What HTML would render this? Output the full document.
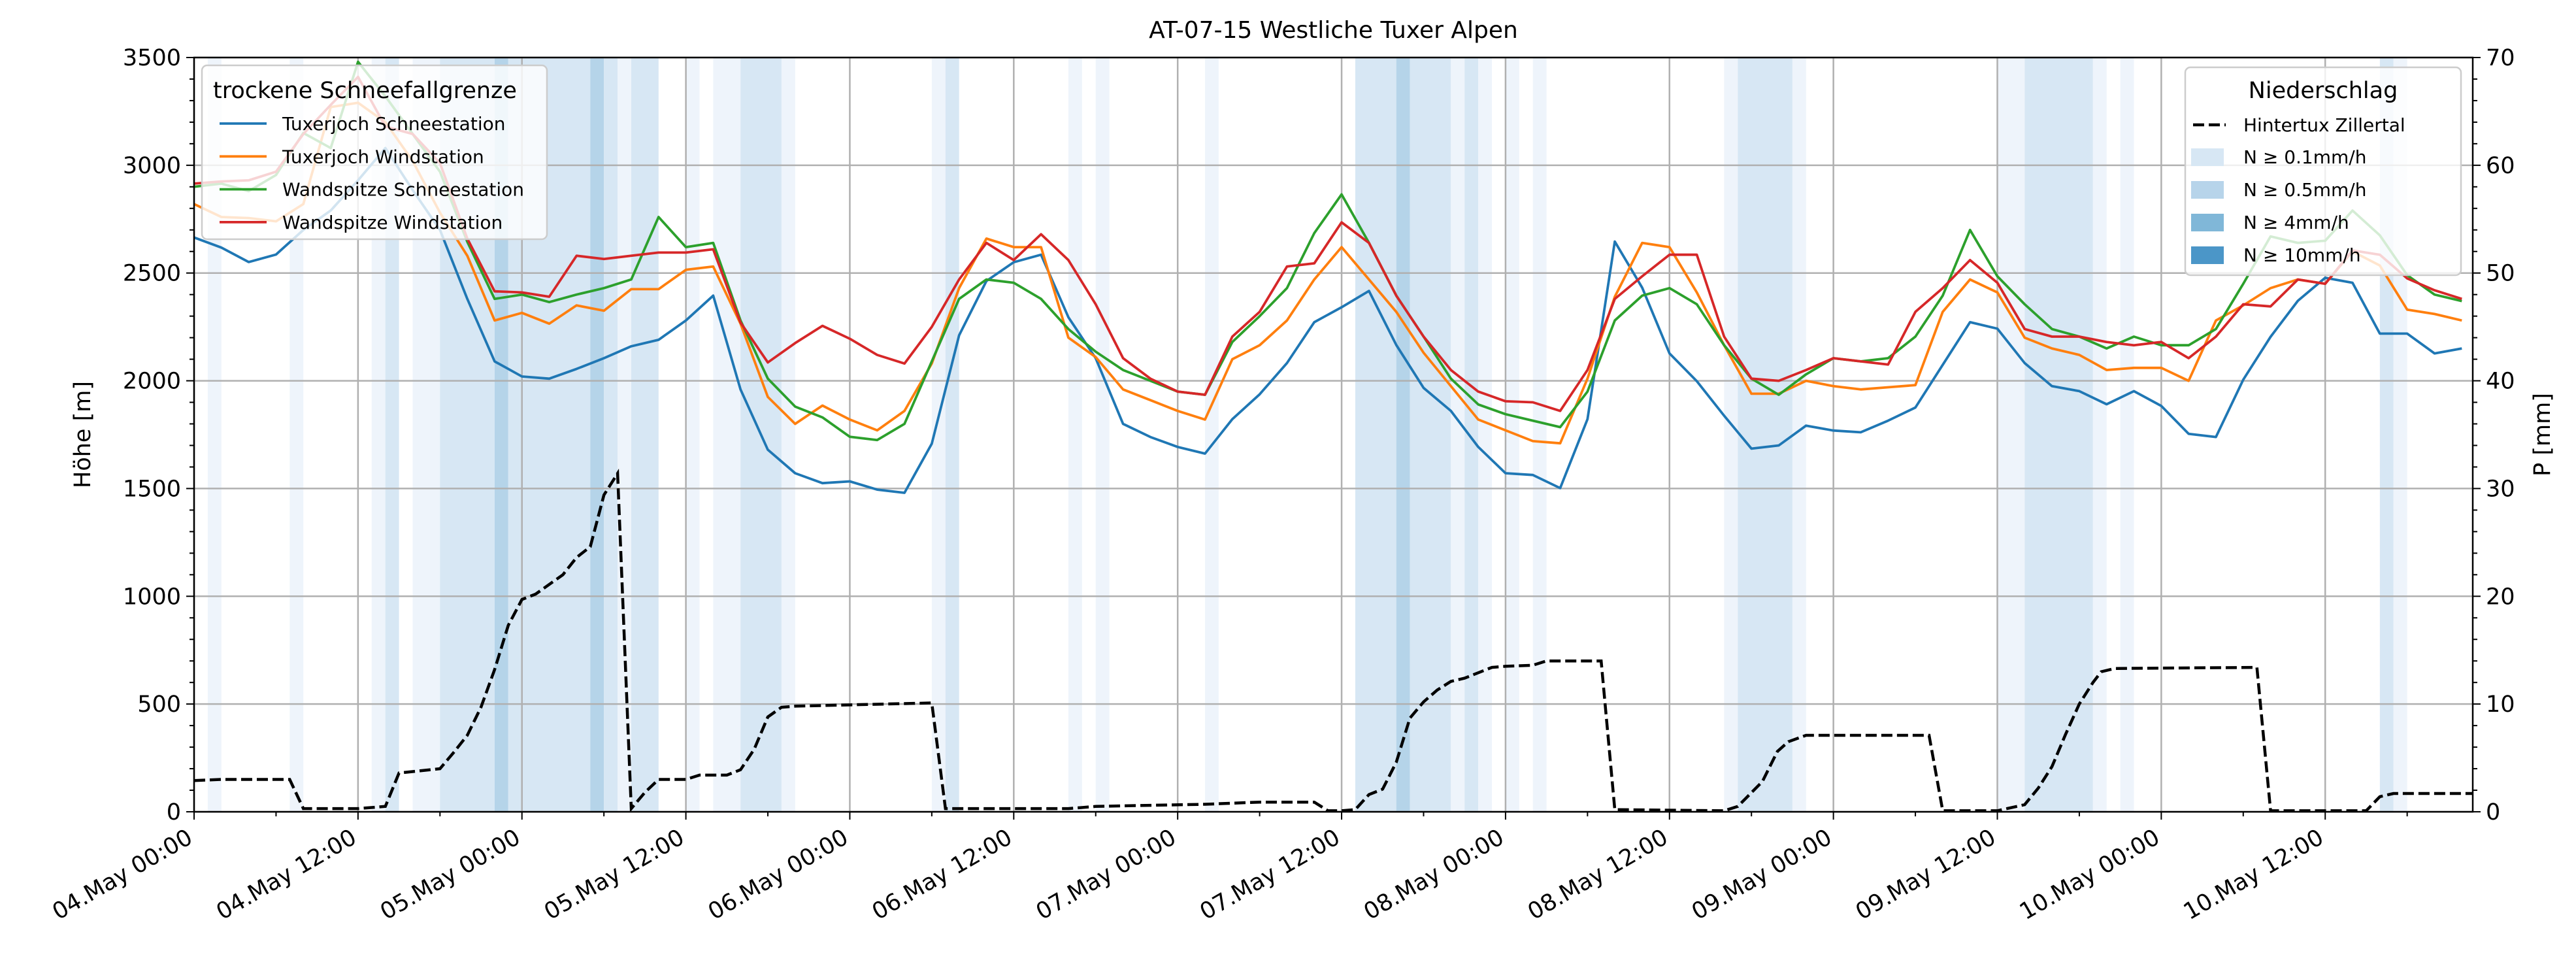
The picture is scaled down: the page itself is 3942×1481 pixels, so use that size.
<!DOCTYPE html>
<html><head><meta charset="utf-8">
<style>
html,body{margin:0;padding:0;background:#fff;}
svg{display:block;font-family:"DejaVu Sans","Liberation Sans",sans-serif;}
</style></head>
<body>
<svg id="chart" width="3942" height="1481" viewBox="0 0 3942 1481" xmlns="http://www.w3.org/2000/svg"></svg>
<script>
// ---- data ----
const hours = [0,2,4,6,8,10,12,14,16,18,20,22,24,26,28,30,32,34,36,38,40,42,44,46,48,50,52,54,56,58,60,62,64,66,68,70,72,74,76,78,80,82,84,86,88,90,92,94,96,98,100,102,104,106,108,110,112,114,116,118,120,122,124,126,128,130,132,134,136,138,140,142,144,146,148,150,152,154,156,158,160,162,164,166];
const tuxSchnee = [2665,2618,2551,2586,2700,2790,2930,3080,2885,2700,2380,2090,2020,2010,2055,2105,2160,2190,2280,2395,1960,1680,1571,1525,1533,1495,1480,1708,2211,2463,2550,2585,2295,2105,1800,1739,1693,1662,1822,1937,2082,2272,2341,2417,2166,1967,1860,1693,1571,1563,1502,1822,2646,2432,2127,1998,1838,1685,1700,1792,1769,1761,1815,1876,2074,2272,2242,2082,1975,1952,1891,1952,1883,1754,1739,2005,2204,2371,2478,2455,2219,2219,2127,2150];
const tuxWind = [2820,2760,2755,2740,2820,3270,3290,3200,3020,2780,2580,2280,2315,2265,2350,2325,2425,2425,2515,2530,2265,1925,1800,1885,1820,1770,1860,2080,2430,2660,2620,2620,2200,2110,1960,1910,1860,1820,2100,2165,2280,2470,2620,2470,2320,2130,1975,1820,1770,1720,1710,2010,2390,2640,2620,2410,2165,1940,1940,2000,1975,1960,1970,1980,2320,2470,2410,2200,2150,2120,2050,2060,2060,2000,2280,2350,2430,2470,2450,2600,2535,2330,2310,2280];
const wandSchnee = [2900,2915,2880,2955,3150,3080,3480,3320,3145,2970,2645,2380,2400,2365,2400,2430,2470,2760,2620,2640,2280,2010,1880,1830,1740,1725,1800,2090,2380,2470,2455,2380,2240,2135,2050,2000,1950,1935,2180,2300,2430,2685,2865,2640,2395,2205,2010,1890,1845,1815,1785,1950,2280,2395,2430,2355,2165,2010,1935,2030,2105,2090,2105,2205,2395,2700,2485,2355,2240,2205,2150,2205,2165,2165,2240,2450,2670,2640,2650,2790,2675,2490,2400,2370];
const wandWind = [2915,2925,2930,2970,3145,3280,3410,3180,3145,3010,2660,2415,2410,2390,2580,2565,2580,2595,2595,2610,2270,2085,2175,2255,2195,2120,2080,2250,2470,2640,2560,2680,2560,2355,2105,2010,1950,1935,2205,2320,2530,2545,2735,2640,2395,2205,2050,1950,1905,1900,1860,2050,2380,2485,2585,2585,2205,2010,2000,2050,2105,2090,2075,2320,2430,2560,2455,2240,2205,2205,2180,2165,2180,2105,2205,2355,2345,2470,2450,2605,2585,2475,2420,2380];
const precipHours = [0,2,7,8,12,14,15,18,19,20,21,22,23,24,25,27,28,29,30,31,32,33,34,36,37,39,40,41,42,43,44,54,55,64,66,70,74,78,82,83,84,85,86,87,88,89,90,91,92,93,94,95,96,98,99,103,104,112,113,114.8,115.9,116.7,118,127,128,132,134,135,136,137,138,139,139.6,140.6,151,152,159,160,161,167];
const precipValues = [2.9,3.0,3.0,0.3,0.3,0.5,3.6,4.0,5.5,7.1,9.7,13.2,17.3,19.7,20.2,22.0,23.6,24.6,29.4,31.4,0.3,1.8,3.0,3.0,3.4,3.4,3.9,5.8,8.8,9.7,9.8,10.1,0.3,0.3,0.5,0.6,0.7,0.9,0.9,0.1,0.1,0.2,1.6,2.1,4.6,8.7,10.2,11.3,12.1,12.4,12.9,13.4,13.5,13.6,14.0,14.0,0.2,0.1,0.5,2.8,5.6,6.5,7.1,7.1,0.1,0.1,0.66,2.2,4.2,7.2,10.0,12.0,13.0,13.3,13.4,0.1,0.1,1.4,1.7,1.7];
const bandStart = [1,7,13,14,16,18,22,23,29,30,31,32,36,38,40,43,54,55,64,66,74,85,88,89,92,93,94,96,98,112,113,117,132,134,139,141,160,161];
const bandEnd   = [2,8,14,15,18,22,23,29,30,31,32,34,37,40,43,44,55,56,65,67,75,88,89,92,93,94,95,97,99,113,117,118,134,139,140,142,161,162];
const bandLevel = [0,0,0,1,0,1,2,1,2,1,0,1,0,0,1,0,0,1,0,0,0,1,2,1,0,1,0,0,0,0,1,0,0,1,0,0,1,0];
const hTicks = [0,500,1000,1500,2000,2500,3000,3500];
const pTicks = [0,10,20,30,40,50,60,70];

// ---- layout ----
const L=297,R=3784,T=88,B=1242,XMAX=166.8,YMAX=3500,PMAX=70;
const xs=h=>L+(h/XMAX)*(R-L);
const ys=v=>B-(v/YMAX)*(B-T);
const yp=v=>B-(v/PMAX)*(B-T);
const NS="http://www.w3.org/2000/svg";
const svg=document.getElementById('chart');
function mk(tag,attrs,parent){const e=document.createElementNS(NS,tag);for(const k in attrs)e.setAttribute(k,attrs[k]);(parent||svg).appendChild(e);return e;}
const bandColors=['#eef4fb','#d7e7f4','#b5d4e9','#4b96c8'];

// bands
const gB=mk('g',{});


for(let i=0;i<bandStart.length;i++){
  const r=mk('rect',{x:xs(bandStart[i]),y:T,width:xs(bandEnd[i])-xs(bandStart[i]),height:B-T,fill:bandColors[bandLevel[i]]},gB);
  
  
}
// grid
const gG=mk('g',{stroke:'#b0b0b0','stroke-width':2.5});


for(let h=0;h<=XMAX;h+=12) mk('line',{x1:xs(h),x2:xs(h),y1:T,y2:B},gG);
hTicks.forEach(v=>mk('line',{x1:L,x2:R,y1:ys(v),y2:ys(v)},gG));

// series
const series=[[tuxSchnee,'#1f77b4','tuxerjoch-schneestation-line'],[tuxWind,'#ff7f0e','tuxerjoch-windstation-line'],[wandSchnee,'#2ca02c','wandspitze-schneestation-line'],[wandWind,'#d62728','wandspitze-windstation-line']];
series.forEach(s=>{
  const d=hours.map((h,i)=>(i?'L':'M')+xs(h).toFixed(1)+','+ys(s[0][i]).toFixed(1)).join('');
  const p=mk('path',{d:d,fill:'none',stroke:s[1],'stroke-width':3.8,'stroke-linejoin':'round'});
  
  
});
// precip line
{
  const d=precipHours.map((h,i)=>(i?'L':'M')+xs(Math.min(h,XMAX)).toFixed(1)+','+yp(precipValues[i]).toFixed(1)).join('');
  const p=mk('path',{d:d,fill:'none',stroke:'#000','stroke-width':4.5,'stroke-dasharray':'17,7'});
  
  
}
// axes frame
const fr=mk('rect',{x:L,y:T,width:R-L,height:B-T,fill:'none',stroke:'#000','stroke-width':2.5});



const gT=mk('g',{'font-size':35,fill:'#000'});


// left ticks
for(let v=0;v<=YMAX;v+=100){const maj=v%500===0;mk('line',{x1:L,x2:L-(maj?12:7),y1:ys(v),y2:ys(v),stroke:'#000','stroke-width':2},gT);}
hTicks.forEach(v=>{const t=mk('text',{x:L-20,y:ys(v)+12,'text-anchor':'end'},gT);t.textContent=v;
  });
// right ticks
for(let v=0;v<=PMAX;v+=2){const maj=v%10===0;mk('line',{x1:R,x2:R+(maj?12:7),y1:yp(v),y2:yp(v),stroke:'#000','stroke-width':2},gT);}
pTicks.forEach(v=>{const t=mk('text',{x:R+20,y:yp(v)+12,'text-anchor':'start'},gT);t.textContent=v;
  });
// x ticks
for(let h=0;h<=XMAX;h+=6){const maj=h%12===0;mk('line',{x1:xs(h),x2:xs(h),y1:B,y2:B+(maj?12:7),stroke:'#000','stroke-width':2},gT);}
for(let h=0;h<=XMAX;h+=12){
  const day=4+Math.floor(h/24),hr=h%24;
  const lab=String(day).padStart(2,'0')+'.May '+String(hr).padStart(2,'0')+':00';
  const t=mk('text',{x:xs(h),y:B+46,'text-anchor':'end',transform:`rotate(-30 ${xs(h)} ${B+46})`},gT);
  t.textContent=lab;
  
  
}
// labels
let t=mk('text',{x:(L+R)/2,y:58,'text-anchor':'middle','font-size':36});t.textContent='AT-07-15 Westliche Tuxer Alpen';

t=mk('text',{x:138,y:(T+B)/2,'text-anchor':'middle','font-size':35,transform:`rotate(-90 138 ${(T+B)/2})`});t.textContent='Höhe [m]';

t=mk('text',{x:3902,y:(T+B)/2,'text-anchor':'middle','font-size':35,transform:`rotate(-90 3902 ${(T+B)/2})`});t.textContent='P [mm]';


// legend 1
const lg1=mk('g',{});


mk('rect',{x:309,y:100,width:528,height:266,rx:8,fill:'#fff','fill-opacity':0.8,stroke:'#cccccc','stroke-width':2.5},lg1);
t=mk('text',{x:326,y:150,'font-size':35},lg1);t.textContent='trockene Schneefallgrenze';

const ln1=['Tuxerjoch Schneestation','Tuxerjoch Windstation','Wandspitze Schneestation','Wandspitze Windstation'];
ln1.forEach((n,i)=>{const y=189+i*50.3;
  mk('line',{x1:336,x2:408,y1:y,y2:y,stroke:series[i][1],'stroke-width':3.8},lg1);
  const tt=mk('text',{x:432,y:y+10,'font-size':28},lg1);tt.textContent=n;
  });
// legend 2
const lg2=mk('g',{});


mk('rect',{x:3344,y:103,width:422,height:318,rx:8,fill:'#fff','fill-opacity':0.8,stroke:'#cccccc','stroke-width':2.5},lg2);
t=mk('text',{x:3555,y:150,'font-size':35,'text-anchor':'middle'},lg2);t.textContent='Niederschlag';

mk('line',{x1:3356,x2:3406,y1:191,y2:191,stroke:'#000','stroke-width':4.5,'stroke-dasharray':'17,7'},lg2);
t=mk('text',{x:3378+55,y:201,'font-size':28},lg2);t.textContent='Hintertux Zillertal';

const ln2=['N ≥ 0.1mm/h','N ≥ 0.5mm/h','N ≥ 4mm/h','N ≥ 10mm/h'];
const lc2=['#d7e7f4','#b7d4ea','#80b7d8','#4b96c8'];
ln2.forEach((n,i)=>{const y=240+i*50;
  mk('rect',{x:3353,y:y-13,width:50,height:27,fill:lc2[i]},lg2);
  const tt=mk('text',{x:3433,y:y+10,'font-size':28},lg2);tt.textContent=n;
  });
</script>
</body></html>
